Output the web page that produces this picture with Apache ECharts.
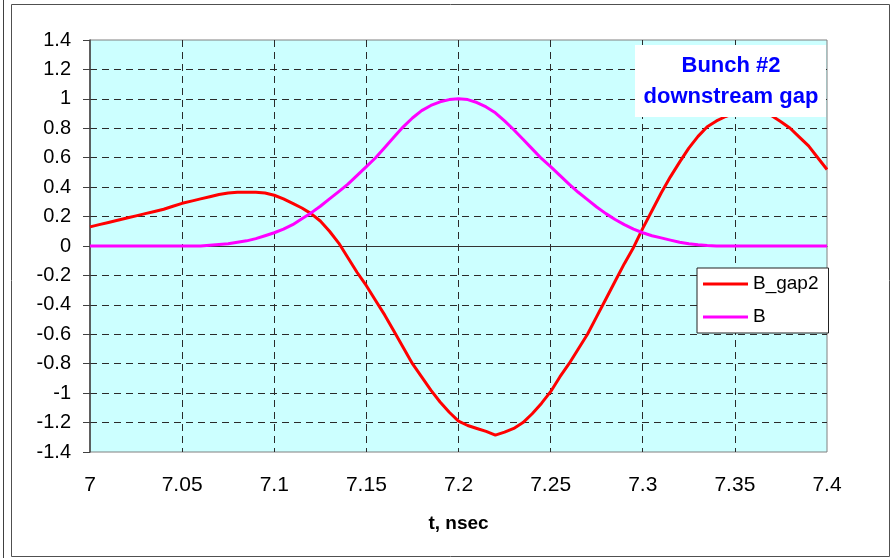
<!DOCTYPE html>
<html><head><meta charset="utf-8">
<script src="https://cdn.jsdelivr.net/npm/echarts@6/dist/echarts.min.js"></script>
<style>html,body{margin:0;padding:0;background:#fff}#c{width:895px;height:558px}</style>
</head><body><div id="c"></div>
<script>
// time, nsec
const t = [
  7.000,7.005,7.010,7.015,7.020,7.025,7.030,7.035,7.040,7.045,
  7.050,7.055,7.060,7.065,7.070,7.075,7.080,7.085,7.090,7.095,
  7.100,7.105,7.110,7.115,7.120,7.125,7.130,7.135,7.140,7.145,
  7.150,7.155,7.160,7.165,7.170,7.175,7.180,7.185,7.190,7.195,
  7.200,7.205,7.210,7.215,7.220,7.225,7.230,7.235,7.240,7.245,
  7.250,7.255,7.260,7.265,7.270,7.275,7.280,7.285,7.290,7.295,
  7.300,7.305,7.310,7.315,7.320,7.325,7.330,7.335,7.340,7.345,
  7.350,7.355,7.360,7.365,7.370,7.375,7.380,7.385,7.390,7.395,
  7.400
];
// B_gap2 (red)
const bGap2 = [
  0.13,0.145,0.16,0.175,0.19,0.205,0.22,0.235,0.25,0.27,
  0.29,0.305,0.32,0.335,0.35,0.36,0.365,0.365,0.365,0.36,
  0.345,0.32,0.29,0.258,0.22,0.17,0.10,0.02,-0.08,-0.18,
  -0.27,-0.37,-0.47,-0.58,-0.69,-0.80,-0.89,-0.98,-1.06,-1.13,
  -1.19,-1.22,-1.24,-1.26,-1.285,-1.265,-1.24,-1.20,-1.14,-1.07,
  -0.99,-0.89,-0.80,-0.70,-0.60,-0.48,-0.36,-0.24,-0.12,-0.01,
  0.12,0.24,0.36,0.47,0.57,0.665,0.745,0.81,0.85,0.88,
  0.905,0.92,0.925,0.915,0.885,0.845,0.80,0.74,0.68,0.60,
  0.52
];
// B (magenta)
const bPulse = [
  0,0,0,0,0,0,0,0,0,0,
  0,0,0,0.005,0.01,0.015,0.025,0.035,0.05,0.07,
  0.09,0.115,0.145,0.185,0.225,0.27,0.32,0.37,0.42,0.48,
  0.54,0.60,0.67,0.74,0.81,0.87,0.92,0.955,0.98,0.995,
  1.0,0.995,0.975,0.945,0.905,0.85,0.79,0.725,0.66,0.595,
  0.54,0.48,0.42,0.365,0.315,0.265,0.22,0.18,0.145,0.115,
  0.09,0.07,0.055,0.04,0.025,0.015,0.008,0.003,0,0,
  0,0,0,0,0,0,0,0,0,0,
  0
];
const seriesNames = ['B_gap2', 'B'];
const seriesColors = ['#FF0000', '#FF00FF'];
const xTicks = [7, 7.05, 7.1, 7.15, 7.2, 7.25, 7.3, 7.35, 7.4];
const yTicks = [-1.4,-1.2,-1,-0.8,-0.6,-0.4,-0.2,0,0.2,0.4,0.6,0.8,1,1.2,1.4];
const titleLines = ['Bunch #2', 'downstream gap'];
const xAxisTitle = 't, nsec';

const FONT = '"Liberation Sans", Arial, Helvetica, sans-serif';
const chart = echarts.init(document.getElementById('c'), null, {renderer: 'canvas'});
const gridDash = {color: '#2a2a2a', width: 1, type: [7, 5]};

const option = {
  animation: false,
  textStyle: {fontFamily: FONT},
  grid: {left: 90, right: 68, top: 40, bottom: 106, show: true,
         backgroundColor: '#CCFFFF', borderColor: '#808080', borderWidth: 1},
  xAxis: [
    {type: 'value', min: xTicks[0], max: xTicks[xTicks.length - 1], interval: 0.05,
     position: 'bottom',
     axisLine: {show: false, onZero: false}, axisTick: {show: false},
     axisLabel: {color: '#000', fontSize: 21, margin: 23, fontFamily: FONT},
     splitLine: {show: true, showMinLine: false, showMaxLine: false, lineStyle: gridDash},
     name: xAxisTitle, nameLocation: 'middle', nameGap: 62,
     nameTextStyle: {fontWeight: 'bold', fontSize: 19, color: '#000', fontFamily: FONT}},
    {type: 'value', min: xTicks[0], max: xTicks[xTicks.length - 1], interval: 0.05,
     position: 'top',
     axisLine: {show: true, onZero: true, lineStyle: {color: '#333333', width: 1}},
     axisTick: {show: false}, axisLabel: {show: false}, splitLine: {show: false}}
  ],
  yAxis: {type: 'value', min: yTicks[0], max: yTicks[yTicks.length - 1], interval: 0.2,
    axisLine: {show: true, onZero: false, lineStyle: {color: '#404040', width: 1.5}},
    axisTick: {show: true, length: 7, lineStyle: {color: '#404040', width: 1}},
    axisLabel: {color: '#000', fontSize: 20, margin: 19, fontFamily: FONT},
    splitLine: {show: true, showMinLine: false, showMaxLine: false, lineStyle: gridDash}},
  legend: {orient: 'vertical', left: 697, top: 268, padding: [6, 10, 6, 6],
    itemWidth: 45, itemHeight: 3, itemGap: 13, icon: 'rect',
    backgroundColor: '#fff', borderColor: '#222', borderWidth: 1,
    textStyle: {fontSize: 19, color: '#000', lineHeight: 20, fontFamily: FONT},
    data: seriesNames},
  series: [
    {name: seriesNames[0], type: 'line', xAxisIndex: 0, symbol: 'none', showSymbol: false,
     data: t.map((x, i) => [x, bGap2[i]]),
     lineStyle: {color: seriesColors[0], width: 3}, itemStyle: {color: seriesColors[0]}, z: 3},
    {name: seriesNames[1], type: 'line', xAxisIndex: 0, symbol: 'none', showSymbol: false,
     data: t.map((x, i) => [x, bPulse[i]]),
     lineStyle: {color: seriesColors[1], width: 3}, itemStyle: {color: seriesColors[1]}, z: 4}
  ],
  graphic: [
    {type: 'line', shape: {x1: 3.5, y1: 0, x2: 3.5, y2: 558}, style: {stroke: '#404040', lineWidth: 1}, silent: true},
    {type: 'rect', shape: {x: 11.5, y: 4.5, width: 878, height: 552}, style: {fill: 'none', stroke: '#505050', lineWidth: 1}, silent: true},
    {type: 'rect', shape: {x: 635, y: 45, width: 191, height: 72}, style: {fill: '#ffffff'}, z: 100, silent: true},
    {type: 'text', x: 731, y: 81, z: 101, silent: true,
     style: {text: titleLines.join('\n'), fill: '#0000FF', font: 'bold 22px ' + FONT,
             textAlign: 'center', textVerticalAlign: 'middle', lineHeight: 31}}
  ]
};
chart.setOption(option);
</script></body></html>
